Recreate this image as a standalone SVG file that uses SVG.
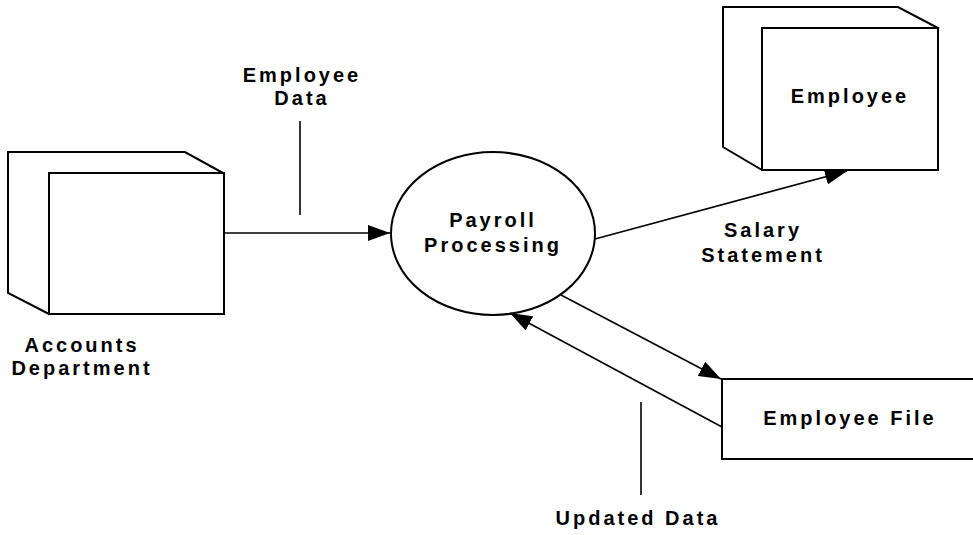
<svg xmlns="http://www.w3.org/2000/svg" width="973" height="535" viewBox="0 0 973 535">
<style>
.box{fill:#fff;stroke:#000;stroke-width:2;stroke-linejoin:miter}
.back{fill:#fff;stroke:#000;stroke-width:2}
.lbl{font-family:"Liberation Sans",Arial,sans-serif;font-weight:bold;font-size:20px;letter-spacing:3px;fill:#000;text-anchor:middle}
.ln{fill:none;stroke:#000;stroke-width:1.6}
.tick{stroke:#000;stroke-width:1.6}
</style>
<defs>
<marker id="ah" viewBox="0 0 22 16" refX="22" refY="8" markerWidth="22" markerHeight="16" markerUnits="userSpaceOnUse" orient="auto">
<path d="M0,0 L22,8 L0,16 Z" fill="#000"/>
</marker>
</defs>
<rect width="973" height="535" fill="#fff"/>
<g id="accounts">
<path class="back" d="M49,314 L8,293 L8,152 L185,152 L223,173 Z"/>
<rect class="box" x="49" y="173" width="175" height="141"/>
<text class="lbl" x="82" y="352">Accounts</text>
<text class="lbl" x="82" y="375">Department</text>
</g>
<g id="payroll">
<ellipse class="box" cx="493" cy="233.5" rx="102" ry="81.5"/>
<text class="lbl" x="493" y="227">Payroll</text>
<text class="lbl" x="493" y="252">Processing</text>
</g>
<g id="employee">
<path class="back" d="M762,170 L723,147 L723,7 L898,7 L938,28 Z"/>
<rect class="box" x="762" y="28" width="176" height="142"/>
<text class="lbl" x="850" y="103">Employee</text>
</g>
<g id="employee-file">
<path class="box" d="M980,379 L722,379 L722,459 L980,459"/>
<text class="lbl" x="850" y="425">Employee File</text>
</g>
<g id="connectors">
<line class="ln" x1="224" y1="233" x2="390" y2="233" marker-end="url(#ah)"/>
<line class="ln" x1="595" y1="239" x2="847" y2="171" marker-end="url(#ah)"/>
<line class="ln" x1="561" y1="295" x2="721" y2="379" marker-end="url(#ah)"/>
<line class="ln" x1="722" y1="427" x2="510" y2="313" marker-end="url(#ah)"/>
<line class="tick" x1="300" y1="121" x2="300" y2="215"/>
<line class="tick" x1="641" y1="402" x2="641" y2="495"/>
</g>
<g id="labels">
<text class="lbl" x="302" y="82">Employee</text>
<text class="lbl" x="302" y="105">Data</text>
<text class="lbl" x="763" y="237">Salary</text>
<text class="lbl" x="763" y="262">Statement</text>
<text class="lbl" x="638" y="525">Updated Data</text>
</g>
</svg>
